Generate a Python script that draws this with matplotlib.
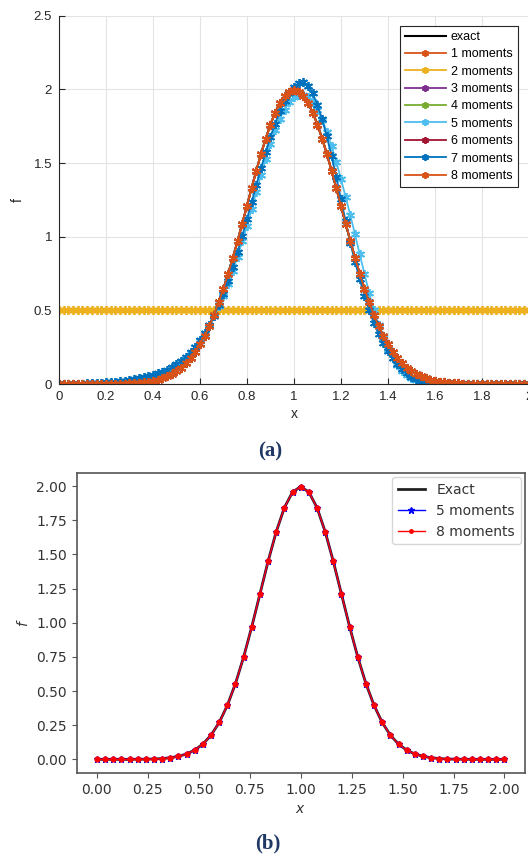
import numpy as np
import matplotlib
matplotlib.use("Agg")
import matplotlib.pyplot as plt

# ---- panel (a): values, x = 0, 0.02, ..., 2 ----
x_a = np.round(np.arange(0, 2.0001, 0.02), 2)

f_exact = [0, 0, 0, 0, 0, 0, 0, 0, 0, 0,
           0.001, 0.001, 0.001, 0.002, 0.003, 0.004, 0.006, 0.009, 0.012, 0.016,
           0.022, 0.030, 0.040, 0.052, 0.068, 0.088, 0.112, 0.142, 0.177, 0.220,
           0.270, 0.328, 0.395, 0.470, 0.555, 0.648, 0.749, 0.857, 0.971, 1.089,
           1.210, 1.331, 1.449, 1.562, 1.666, 1.761, 1.842, 1.907, 1.956, 1.985,
           1.995,
           1.985, 1.956, 1.907, 1.842, 1.761, 1.666, 1.562, 1.449, 1.331, 1.210,
           1.089, 0.971, 0.857, 0.749, 0.648, 0.555, 0.470, 0.395, 0.328, 0.270,
           0.220, 0.177, 0.142, 0.112, 0.088, 0.068, 0.052, 0.040, 0.030, 0.022,
           0.016, 0.012, 0.009, 0.006, 0.004, 0.003, 0.002, 0.001, 0.001, 0.001,
           0, 0, 0, 0, 0, 0, 0, 0, 0, 0]

f_m1 = f_exact
f_m2 = [0.5] * len(x_a)
f_m3 = f_exact
f_m4 = f_exact

f_m5 = [0, 0, 0, 0, 0, 0, 0.001, 0.001, 0.001, 0.001,
        0.001, 0.002, 0.003, 0.004, 0.005, 0.007, 0.010, 0.013, 0.018, 0.024,
        0.032, 0.042, 0.054, 0.070, 0.089, 0.112, 0.139, 0.171, 0.208, 0.250,
        0.295, 0.345, 0.402, 0.465, 0.530, 0.600, 0.680, 0.770, 0.865, 0.968,
        1.075, 1.190, 1.305, 1.420, 1.530, 1.632, 1.722, 1.800, 1.862, 1.912,
        1.945,
        1.962, 1.962, 1.945, 1.912, 1.862, 1.795, 1.712, 1.615, 1.508, 1.392,
        1.270, 1.145, 1.015, 0.880, 0.748, 0.620, 0.503, 0.400, 0.310, 0.235,
        0.175, 0.127, 0.090, 0.062, 0.042, 0.028, 0.018, 0.011, 0.006, 0.003,
        0.001, 0, 0, 0, 0, 0, 0, 0, 0, 0,
        0, 0, 0, 0, 0, 0, 0, 0, 0, 0]

f_m6 = f_exact

f_m7 = [0, 0, 0.001, 0.001, 0.002, 0.003, 0.004, 0.005, 0.007, 0.009,
        0.011, 0.013, 0.016, 0.019, 0.023, 0.027, 0.032, 0.038, 0.045, 0.053,
        0.062, 0.072, 0.084, 0.098, 0.115, 0.135, 0.158, 0.185, 0.217, 0.254,
        0.297, 0.346, 0.402, 0.465, 0.535, 0.614, 0.700, 0.795, 0.897, 1.005,
        1.118, 1.234, 1.350, 1.464, 1.573, 1.675, 1.768, 1.850, 1.918, 1.972,
        2.015,
        2.045, 2.050, 2.025, 1.972, 1.895, 1.797, 1.680, 1.548, 1.405, 1.255,
        1.105, 0.958, 0.830, 0.710, 0.600, 0.502, 0.416, 0.342, 0.278, 0.222,
        0.174, 0.133, 0.099, 0.072, 0.051, 0.035, 0.023, 0.014, 0.008, 0.004,
        0.002, 0.001, 0, 0, 0, 0, 0, 0, 0, 0,
        0, 0, 0, 0, 0, 0, 0, 0, 0, 0]

f_m8 = f_exact

labels_a = ["1 moments", "2 moments", "3 moments", "4 moments",
            "5 moments", "6 moments", "7 moments", "8 moments"]
series_a = [f_m1, f_m2, f_m3, f_m4, f_m5, f_m6, f_m7, f_m8]
colors_a = ["#D95319", "#EDB120", "#7E2F8E", "#77AC30",
            "#4DBEEE", "#A2142F", "#0072BD", "#D95319"]

# ---- panel (b): x = 0, 0.04, ..., 2 ----
x_b = np.round(np.arange(0, 2.0001, 0.04), 2)
f_exact_b = [0, 0, 0, 0, 0, 0.001, 0.001, 0.003, 0.006, 0.012,
             0.022, 0.040, 0.068, 0.112, 0.177, 0.270, 0.395, 0.555, 0.749, 0.971,
             1.210, 1.449, 1.666, 1.842, 1.956,
             1.995,
             1.956, 1.842, 1.666, 1.449, 1.210, 0.971, 0.749, 0.555, 0.395, 0.270,
             0.177, 0.112, 0.068, 0.040, 0.022, 0.012, 0.006, 0.003, 0.001, 0.001,
             0, 0, 0, 0, 0]
f_m5_b = f_exact_b
f_m8_b = f_exact_b

fig = plt.figure(figsize=(5.28, 8.57), dpi=100)

# ---------------- (a) MATLAB look ----------------
mat_font = "Liberation Sans"
ax1 = fig.add_axes([0.1117, 0.5519, 0.890, 0.4298])
ax1.plot(x_a, f_exact, color="black", lw=1.5, label="exact")
for y, lab, c in zip(series_a, labels_a, colors_a):
    ax1.plot(x_a, y, "-", color=c, lw=1.3, marker=(6, 2, 0), ms=6.5, mew=1.3,
             label=lab)
ax1.set_xlim(0, 2)
ax1.set_ylim(0, 2.5)
ax1.set_xticks(np.round(np.arange(0, 2.01, 0.2), 1))
ax1.set_xticklabels(["0", "0.2", "0.4", "0.6", "0.8", "1", "1.2", "1.4",
                     "1.6", "1.8", "2"])
ax1.set_yticks([0, 0.5, 1, 1.5, 2, 2.5])
ax1.set_yticklabels(["0", "0.5", "1", "1.5", "2", "2.5"])
ax1.grid(True, color="#e3e3e3", lw=0.8)
ax1.set_axisbelow(True)
for s in ["top", "right"]:
    ax1.spines[s].set_visible(False)
for s in ["left", "bottom"]:
    ax1.spines[s].set_color("#262626")
    ax1.spines[s].set_linewidth(0.8)
ax1.tick_params(direction="in", length=4, width=0.8, colors="#262626",
                labelsize=9.5, pad=5)
for t in ax1.get_xticklabels() + ax1.get_yticklabels():
    t.set_fontfamily(mat_font)
ax1.set_xlabel("x", fontsize=10, fontfamily=mat_font, color="#262626",
               labelpad=3)
ax1.set_ylabel("f", fontsize=10, fontfamily=mat_font, color="#262626",
               labelpad=6)
leg1 = ax1.legend(loc="upper right", bbox_to_anchor=(0.976, 0.972),
                  borderaxespad=0, fancybox=False, edgecolor="#262626",
                  framealpha=1, handlelength=3.3, handletextpad=0.4,
                  labelspacing=0.43, borderpad=0.4, numpoints=1,
                  prop={"family": mat_font, "size": 9})
leg1.get_frame().set_linewidth(0.8)
for h in leg1.legend_handles[1:]:
    h.set_markersize(5)

# ---------------- (b) matplotlib look ----------------
ax2 = fig.add_axes([0.145, 0.098, 0.849, 0.350])
ax2.plot(x_b, f_exact_b, color="#222222", lw=2.0, label="Exact")
ax2.plot(x_b, f_m5_b, "-", color="blue", lw=1.0, marker="*", ms=5,
         label="5 moments")
ax2.plot(x_b, f_m8_b, "-", color="red", lw=1.0, marker=".", ms=7,
         label="8 moments")
ax2.set_yticks([0, 0.25, 0.5, 0.75, 1.0, 1.25, 1.5, 1.75, 2.0])
ax2.set_xticks([0, 0.25, 0.5, 0.75, 1.0, 1.25, 1.5, 1.75, 2.0])
ax2.yaxis.set_major_formatter(plt.FormatStrFormatter("%.2f"))
ax2.xaxis.set_major_formatter(plt.FormatStrFormatter("%.2f"))
for s in ax2.spines.values():
    s.set_color("#555555")
    s.set_linewidth(1.2)
ax2.tick_params(colors="#555555", labelcolor="#333333", labelsize=10)
ax2.set_xlabel("$x$", fontsize=10, color="#333333")
ax2.set_ylabel("$f$", fontsize=10, color="#333333")
leg2 = ax2.legend(loc="upper right", fontsize=10, labelcolor="#333333",
                  borderaxespad=0.3)
leg2.legend_handles[2].set_markersize(5)

# captions
fig.text(0.511, 1 - 451 / 857, "(a)", ha="center", va="center",
         fontfamily="Liberation Serif", fontweight="bold", fontsize=15,
         color="#1F3864")
fig.text(0.508, 1 - 843 / 857, "(b)", ha="center", va="center",
         fontfamily="Liberation Serif", fontweight="bold", fontsize=15,
         color="#1F3864")

fig.savefig("out.png", dpi=100)
